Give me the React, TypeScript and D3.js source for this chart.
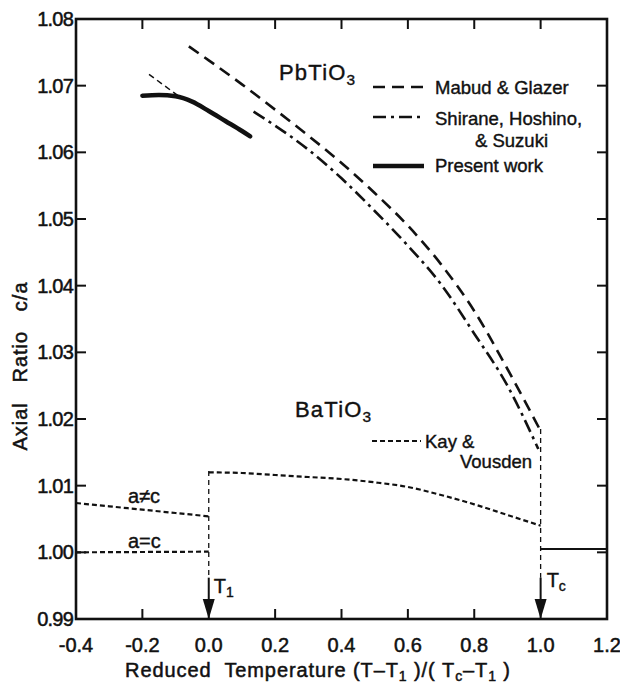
import React from 'react';
import * as d3 from 'd3';

// ---------- data ----------
const xTicks = [-0.4, -0.2, 0.0, 0.2, 0.4, 0.6, 0.8, 1.0, 1.2];
const xTickLabels = ['-0.4', '-0.2', '0.0', '0.2', '0.4', '0.6', '0.8', '1.0', '1.2'];
const yTicks = [0.99, 1.0, 1.01, 1.02, 1.03, 1.04, 1.05, 1.06, 1.07, 1.08];
const yTickLabels = ['0.99', '1.00', '1.01', '1.02', '1.03', '1.04', '1.05', '1.06', '1.07', '1.08'];

// PbTiO3 – Mabud & Glazer
const mabudX = [-0.06, 0.0, 0.1, 0.2, 0.3, 0.4, 0.5, 0.6, 0.7, 0.8, 0.9, 1.0];
const mabudY = [1.0759, 1.0738, 1.0702, 1.0664, 1.0625, 1.0584, 1.0539, 1.049, 1.0432, 1.0362, 1.0275, 1.0182];
// PbTiO3 – Shirane, Hoshino & Suzuki
const shiraneX = [0.135, 0.2, 0.3, 0.4, 0.5, 0.6, 0.7, 0.8, 0.9, 0.993];
const shiraneY = [1.0661, 1.064, 1.0604, 1.0561, 1.0512, 1.046, 1.0402, 1.0328, 1.025, 1.0155];
// PbTiO3 – present work
const presentX = [-0.2, -0.15, -0.1, -0.05, 0.0, 0.05, 0.1, 0.125];
const presentY = [1.0685, 1.0686, 1.0684, 1.0676, 1.0662, 1.0647, 1.0632, 1.0624];
// thin dashed extrapolation of present work
const extrapX = [-0.18, -0.09];
const extrapY = [1.0717, 1.0684];

// BaTiO3 – Kay & Vousden
const kayUpperX = [0.0, 0.1, 0.2, 0.3, 0.4, 0.5, 0.6, 0.7, 0.8, 0.9, 1.0];
const kayUpperY = [1.012, 1.0119, 1.0116, 1.0113, 1.011, 1.0105, 1.0098, 1.0086, 1.0072, 1.0056, 1.004];
const kayNeX = [-0.4, -0.3, -0.2, -0.1, 0.0];
const kayNeY = [1.0074, 1.0069, 1.0064, 1.0059, 1.0054];
const kayEqX = [-0.4, 0.0];
const kayEqY = [1.0, 1.0001];
const cubicX = [1.0, 1.2];
const cubicY = [1.0005, 1.0005];

// transition markers
const transX = [0.0, 1.0];
const transTop = [1.0122, 1.0185];
const arrowTop = 0.9962;

// ---------- layout ----------
const W = 620, H = 684;
const L = 76, R = 607, T = 19, B = 619;
const FONT = '"Liberation Sans", Arial, sans-serif';

const x = d3.scaleLinear().domain([-0.4, 1.2]).range([L, R]);
const y = d3.scaleLinear().domain([0.99, 1.08]).range([B, T]);

const mkLine = (xs: number[], ys: number[]) =>
  d3.line<number>().x((_, i) => x(xs[i])).y((_, i) => y(ys[i])).curve(d3.curveMonotoneX)(xs) || '';

const Sub = ({ children }: { children: React.ReactNode }) => (
  <tspan baselineShift="-30%" fontSize="0.7em">{children}</tspan>
);

export default function App() {
  const tick = 10;
  const arrowHead = 20;
  const arrowHalf = 6;
  return (
    <svg width={W} height={H} style={{ position: 'absolute', left: 0, top: 0, background: '#fff' }}
      fontFamily={FONT}>
      <rect x={0} y={0} width={W} height={H} fill="#fff" />
      {/* frame */}
      <rect x={L} y={T} width={R - L} height={B - T} fill="none" stroke="#111" strokeWidth={2.6} />
      {/* x ticks */}
      {xTicks.slice(1, -1).map((v) => (
        <g key={'xt' + v} stroke="#111" strokeWidth={2}>
          <line x1={x(v)} x2={x(v)} y1={B} y2={B - tick} />
          <line x1={x(v)} x2={x(v)} y1={T} y2={T + tick} />
        </g>
      ))}
      {/* y ticks */}
      {yTicks.slice(1, -1).map((v) => (
        <g key={'yt' + v} stroke="#111" strokeWidth={2}>
          <line x1={L} x2={L + tick} y1={y(v)} y2={y(v)} />
          <line x1={R} x2={R - tick} y1={y(v)} y2={y(v)} />
        </g>
      ))}

      <g fill="#111" stroke="#111" strokeWidth={0.5}>
        {xTicks.map((v, i) => (
          <text key={'xl' + v} x={x(v)} y={652} textAnchor="middle" fontSize={20}>
            {xTickLabels[i]}
          </text>
        ))}
        {yTicks.map((v, i) => (
          <text key={'yl' + v} x={73} y={y(v) + 7} textAnchor="end" fontSize={20} letterSpacing={-0.8}>
            {yTickLabels[i]}
          </text>
        ))}
        {/* axis titles */}
        <text x={318} y={677} textAnchor="middle" fontSize={20} letterSpacing={0.9}>
          Reduced{'\u00a0'}{'\u00a0'}Temperature (T–T<Sub>1</Sub>{'\u00a0'})/({'\u00a0'}T<Sub>c</Sub>–T<Sub>1</Sub>{'\u00a0'})
        </text>
        <text transform={`translate(27,366) rotate(-90)`} textAnchor="middle" fontSize={20} letterSpacing={1}>
          Axial{'\u00a0\u00a0\u00a0'}Ratio{'\u00a0\u00a0\u00a0'}c/a
        </text>
      </g>

      {/* PbTiO3 curves */}
      <path d={mkLine(mabudX, mabudY)} fill="none" stroke="#111" strokeWidth={2.6} strokeDasharray="12 7" />
      <path d={mkLine(shiraneX, shiraneY)} fill="none" stroke="#111" strokeWidth={2.6} strokeDasharray="13 5 3 5" />
      <path d={mkLine(extrapX, extrapY)} fill="none" stroke="#111" strokeWidth={1.5} strokeDasharray="6 4" />
      <path d={mkLine(presentX, presentY)} fill="none" stroke="#111" strokeWidth={4.5} strokeLinecap="round" />

      {/* BaTiO3 curves */}
      <path d={mkLine(kayUpperX, kayUpperY)} fill="none" stroke="#111" strokeWidth={2.2} strokeDasharray="5 3" />
      <path d={mkLine(kayNeX, kayNeY)} fill="none" stroke="#111" strokeWidth={2.2} strokeDasharray="5 3" />
      <path d={mkLine(kayEqX, kayEqY)} fill="none" stroke="#111" strokeWidth={2.2} strokeDasharray="5 3" />
      <path d={mkLine(cubicX, cubicY)} fill="none" stroke="#111" strokeWidth={2.2} />

      {/* transition markers */}
      {transX.map((v, i) => (
        <g key={'tr' + v}>
          <line x1={x(v)} x2={x(v)} y1={y(transTop[i])} y2={y(arrowTop)} stroke="#111" strokeWidth={1.3} strokeDasharray="5 4" />
          <line x1={x(v)} x2={x(v)} y1={y(arrowTop)} y2={B - arrowHead + 2} stroke="#111" strokeWidth={2} />
          <polygon
            points={`${x(v) - arrowHalf},${B - arrowHead} ${x(v) + arrowHalf},${B - arrowHead} ${x(v)},${B}`}
            fill="#111" />
        </g>
      ))}

      <g fill="#111" stroke="#111" strokeWidth={0.4}>
        <text x={x(0) + 5} y={593} fontSize={20}>T<Sub>1</Sub></text>
        <text x={x(1) + 6} y={587} fontSize={20}>T<Sub>c</Sub></text>

        {/* PbTiO3 legend */}
        <text x={279} y={80} fontSize={22} letterSpacing={1.2}>PbTiO<Sub>3</Sub></text>
        <text x={435} y={94} fontSize={18.5}>Mabud &amp; Glazer</text>
        <text x={435} y={125} fontSize={18.5}>Shirane, Hoshino,</text>
        <text x={475} y={147} fontSize={18.5}>&amp; Suzuki</text>
        <text x={435} y={172} fontSize={18.5}>Present work</text>

        {/* BaTiO3 labels */}
        <text x={295} y={417} fontSize={22} letterSpacing={1.2}>BaTiO<Sub>3</Sub></text>
        <text x={425} y={448} fontSize={18.5}>Kay &amp;</text>
        <text x={460} y={468} fontSize={18.5}>Vousden</text>
        <text x={128} y={503} fontSize={20}>a≠c</text>
        <text x={128} y={548} fontSize={20}>a=c</text>
      </g>
      <line x1={373} x2={424} y1={87} y2={87} stroke="#111" strokeWidth={2.6} strokeDasharray="12 7" />
      <line x1={373} x2={424} y1={117} y2={117} stroke="#111" strokeWidth={2.6} strokeDasharray="13 5 3 5" />
      <line x1={373} x2={424} y1={166} y2={166} stroke="#111" strokeWidth={4.5} />
      <line x1={372} x2={421} y1={441} y2={441} stroke="#111" strokeWidth={2.2} strokeDasharray="5 3" />
    </svg>
  );
}
